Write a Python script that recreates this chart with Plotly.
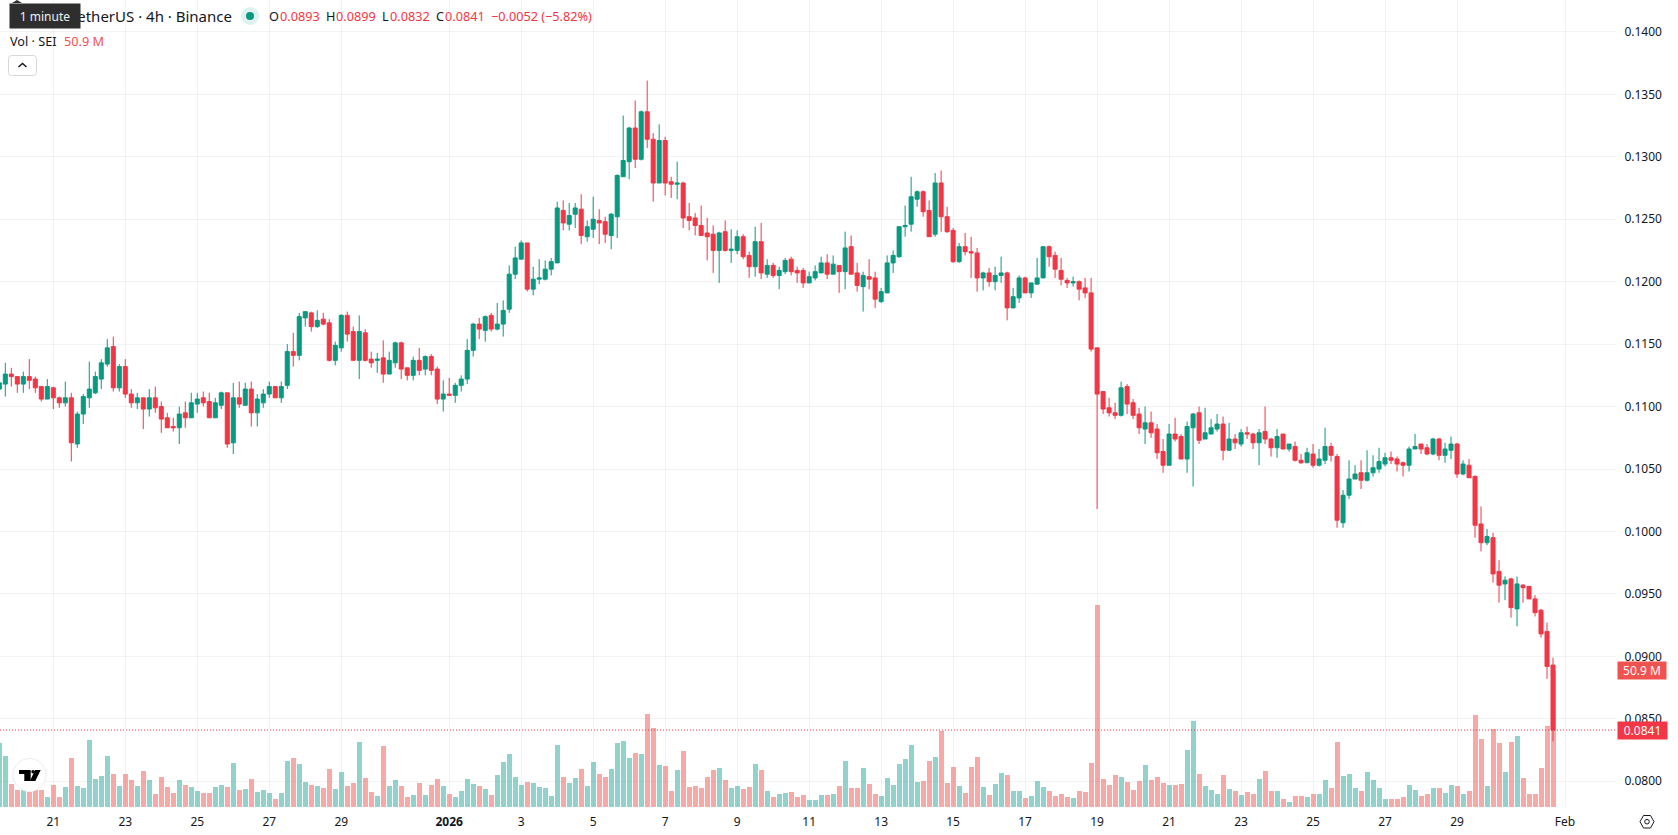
import pandas as pd
import plotly.graph_objects as go

# Four-hour candles of SEI/USDT, oldest first
first_bar = "2025-12-19 12:00"
opens = [
    0.1114, 0.1118, 0.1126, 0.1124, 0.1118, 0.1124, 0.1122, 0.1116, 0.1106, 0.1115,
    0.1107, 0.1103, 0.1107, 0.1070, 0.1094, 0.1107, 0.1111, 0.1122, 0.1134, 0.1148,
    0.1115, 0.1132, 0.1110, 0.1103, 0.1107, 0.1098, 0.1107, 0.1100, 0.1091, 0.1084,
    0.1083, 0.1095, 0.1091, 0.1102, 0.1107, 0.1104, 0.1091, 0.1101, 0.1111, 0.1071,
    0.1107, 0.1101, 0.1114, 0.1095, 0.1103, 0.1110, 0.1116, 0.1107, 0.1117, 0.1144,
    0.1141, 0.1171, 0.1175, 0.1164, 0.1170, 0.1167, 0.1137, 0.1147, 0.1173, 0.1160,
    0.1137, 0.1159, 0.1138, 0.1137, 0.1139, 0.1126, 0.1135, 0.1151, 0.1131, 0.1125,
    0.1137, 0.1130, 0.1140, 0.1130, 0.1106, 0.1110, 0.1109, 0.1117, 0.1122, 0.1145,
    0.1166, 0.1161, 0.1173, 0.1162, 0.1166, 0.1178, 0.1206, 0.1218, 0.1231, 0.1194,
    0.1202, 0.1202, 0.1210, 0.1215, 0.1257, 0.1246, 0.1254, 0.1258, 0.1236, 0.1242,
    0.1249, 0.1248, 0.1237, 0.1252, 0.1284, 0.1296, 0.1323, 0.1298, 0.1336, 0.1314,
    0.1279, 0.1313, 0.1280, 0.1278, 0.1279, 0.1252, 0.1251, 0.1245, 0.1239, 0.1238,
    0.1225, 0.1240, 0.1225, 0.1225, 0.1236, 0.1221, 0.1212, 0.1232, 0.1206, 0.1213,
    0.1205, 0.1208, 0.1218, 0.1209, 0.1209, 0.1199, 0.1203, 0.1207, 0.1215, 0.1206,
    0.1213, 0.1208, 0.1228, 0.1207, 0.1196, 0.1204, 0.1203, 0.1184, 0.1191, 0.1215,
    0.1220, 0.1244, 0.1246, 0.1266, 0.1272, 0.1257, 0.1238, 0.1279, 0.1252, 0.1241,
    0.1216, 0.1228, 0.1224, 0.1223, 0.1203, 0.1207, 0.1200, 0.1205, 0.1207, 0.1179,
    0.1187, 0.1203, 0.1191, 0.1198, 0.1203, 0.1228, 0.1221, 0.1209, 0.1201, 0.1199,
    0.1200, 0.1195, 0.1191, 0.1147, 0.1112, 0.1099, 0.1095, 0.1093, 0.1116, 0.1103,
    0.1094, 0.1082, 0.1087, 0.1082, 0.1064, 0.1053, 0.1078, 0.1076, 0.1058, 0.1083,
    0.1095, 0.1074, 0.1078, 0.1082, 0.1086, 0.1065, 0.1074, 0.1070, 0.1079, 0.1078,
    0.1071, 0.1080, 0.1074, 0.1067, 0.1078, 0.1066, 0.1068, 0.1057, 0.1055, 0.1062,
    0.1053, 0.1057, 0.1068, 0.1060, 0.1007, 0.1029, 0.1042, 0.1047, 0.1041, 0.1047,
    0.1050, 0.1054, 0.1059, 0.1058, 0.1055, 0.1053, 0.1066, 0.1070, 0.1067, 0.1062,
    0.1074, 0.1061, 0.1065, 0.1070, 0.1046, 0.1053, 0.1044, 0.1006, 0.0991, 0.0995,
    0.0968, 0.0958, 0.0962, 0.0938, 0.0957, 0.0956, 0.0946, 0.0937, 0.0920, 0.0893,
]
highs = [
    0.1122, 0.1135, 0.1131, 0.1124, 0.1128, 0.1138, 0.1124, 0.1116, 0.1122, 0.1116,
    0.1108, 0.1120, 0.1111, 0.1096, 0.1110, 0.1136, 0.1128, 0.1138, 0.1154, 0.1156,
    0.1134, 0.1138, 0.1114, 0.1111, 0.1107, 0.1114, 0.1116, 0.1104, 0.1095, 0.1091,
    0.1100, 0.1104, 0.1111, 0.1111, 0.1112, 0.1111, 0.1107, 0.1112, 0.1111, 0.1119,
    0.1120, 0.1119, 0.1120, 0.1110, 0.1114, 0.1120, 0.1116, 0.1120, 0.1150, 0.1159,
    0.1175, 0.1176, 0.1176, 0.1177, 0.1175, 0.1170, 0.1152, 0.1174, 0.1176, 0.1164,
    0.1173, 0.1162, 0.1144, 0.1143, 0.1153, 0.1144, 0.1152, 0.1152, 0.1131, 0.1140,
    0.1147, 0.1141, 0.1142, 0.1132, 0.1121, 0.1123, 0.1119, 0.1125, 0.1154, 0.1167,
    0.1171, 0.1173, 0.1175, 0.1183, 0.1185, 0.1213, 0.1228, 0.1233, 0.1231, 0.1212,
    0.1218, 0.1217, 0.1219, 0.1264, 0.1265, 0.1263, 0.1263, 0.1270, 0.1249, 0.1268,
    0.1258, 0.1252, 0.1255, 0.1286, 0.1333, 0.1324, 0.1345, 0.1337, 0.1361, 0.1319,
    0.1326, 0.1316, 0.1284, 0.1296, 0.1280, 0.1263, 0.1255, 0.1261, 0.1251, 0.1245,
    0.1240, 0.1249, 0.1242, 0.1241, 0.1238, 0.1224, 0.1244, 0.1247, 0.1218, 0.1215,
    0.1212, 0.1219, 0.1220, 0.1212, 0.1211, 0.1208, 0.1213, 0.1220, 0.1222, 0.1221,
    0.1213, 0.1240, 0.1237, 0.1215, 0.1208, 0.1218, 0.1208, 0.1195, 0.1221, 0.1225,
    0.1244, 0.1261, 0.1284, 0.1273, 0.1273, 0.1265, 0.1287, 0.1289, 0.1260, 0.1243,
    0.1231, 0.1239, 0.1236, 0.1227, 0.1208, 0.1211, 0.1212, 0.1220, 0.1208, 0.1195,
    0.1205, 0.1204, 0.1199, 0.1219, 0.1228, 0.1229, 0.1224, 0.1219, 0.1203, 0.1204,
    0.1201, 0.1203, 0.1203, 0.1147, 0.1112, 0.1107, 0.1103, 0.1120, 0.1118, 0.1106,
    0.1099, 0.1100, 0.1096, 0.1086, 0.1074, 0.1086, 0.1091, 0.1078, 0.1088, 0.1095,
    0.1100, 0.1099, 0.1090, 0.1094, 0.1092, 0.1087, 0.1078, 0.1082, 0.1084, 0.1079,
    0.1082, 0.1100, 0.1075, 0.1082, 0.1078, 0.1070, 0.1072, 0.1062, 0.1067, 0.1070,
    0.1066, 0.1083, 0.1071, 0.1062, 0.1033, 0.1057, 0.1053, 0.1057, 0.1065, 0.1061,
    0.1067, 0.1063, 0.1064, 0.1060, 0.1056, 0.1068, 0.1078, 0.1070, 0.1070, 0.1075,
    0.1075, 0.1071, 0.1076, 0.1071, 0.1057, 0.1058, 0.1045, 0.1020, 0.1002, 0.0999,
    0.0977, 0.0964, 0.0963, 0.0964, 0.0958, 0.0956, 0.0949, 0.0938, 0.0927, 0.0899,
]
lows = [
    0.1110, 0.1108, 0.1116, 0.1111, 0.1111, 0.1114, 0.1111, 0.1104, 0.1106, 0.1098,
    0.1099, 0.1100, 0.1056, 0.1067, 0.1086, 0.1099, 0.1110, 0.1114, 0.1132, 0.1112,
    0.1112, 0.1107, 0.1099, 0.1098, 0.1082, 0.1092, 0.1095, 0.1079, 0.1083, 0.1080,
    0.1070, 0.1083, 0.1091, 0.1095, 0.1100, 0.1091, 0.1091, 0.1098, 0.1067, 0.1062,
    0.1099, 0.1101, 0.1084, 0.1084, 0.1099, 0.1107, 0.1107, 0.1103, 0.1114, 0.1132,
    0.1137, 0.1164, 0.1160, 0.1163, 0.1165, 0.1136, 0.1133, 0.1144, 0.1152, 0.1137,
    0.1122, 0.1136, 0.1131, 0.1127, 0.1119, 0.1126, 0.1131, 0.1122, 0.1121, 0.1121,
    0.1125, 0.1125, 0.1125, 0.1102, 0.1096, 0.1109, 0.1103, 0.1112, 0.1118, 0.1140,
    0.1154, 0.1152, 0.1160, 0.1161, 0.1156, 0.1175, 0.1202, 0.1218, 0.1192, 0.1189,
    0.1198, 0.1201, 0.1205, 0.1215, 0.1241, 0.1241, 0.1243, 0.1230, 0.1232, 0.1235,
    0.1230, 0.1231, 0.1226, 0.1235, 0.1284, 0.1282, 0.1291, 0.1297, 0.1307, 0.1264,
    0.1279, 0.1269, 0.1267, 0.1266, 0.1243, 0.1241, 0.1237, 0.1237, 0.1217, 0.1207,
    0.1199, 0.1224, 0.1215, 0.1222, 0.1218, 0.1203, 0.1204, 0.1202, 0.1203, 0.1203,
    0.1194, 0.1206, 0.1205, 0.1199, 0.1195, 0.1199, 0.1201, 0.1207, 0.1202, 0.1206,
    0.1191, 0.1194, 0.1206, 0.1192, 0.1176, 0.1194, 0.1179, 0.1183, 0.1191, 0.1207,
    0.1219, 0.1236, 0.1240, 0.1260, 0.1252, 0.1236, 0.1236, 0.1240, 0.1239, 0.1215,
    0.1215, 0.1221, 0.1203, 0.1192, 0.1193, 0.1196, 0.1193, 0.1199, 0.1169, 0.1179,
    0.1183, 0.1191, 0.1187, 0.1198, 0.1203, 0.1212, 0.1203, 0.1197, 0.1195, 0.1196,
    0.1185, 0.1187, 0.1144, 0.1018, 0.1094, 0.1092, 0.1090, 0.1092, 0.1094, 0.1090,
    0.1078, 0.1070, 0.1075, 0.1058, 0.1047, 0.1053, 0.1072, 0.1058, 0.1047, 0.1036,
    0.1070, 0.1074, 0.1078, 0.1080, 0.1057, 0.1065, 0.1066, 0.1068, 0.1074, 0.1066,
    0.1053, 0.1070, 0.1060, 0.1059, 0.1066, 0.1064, 0.1056, 0.1054, 0.1055, 0.1051,
    0.1052, 0.1054, 0.1056, 0.1003, 0.1003, 0.1026, 0.1042, 0.1034, 0.1040, 0.1044,
    0.1047, 0.1052, 0.1054, 0.1048, 0.1044, 0.1048, 0.1066, 0.1062, 0.1061, 0.1061,
    0.1057, 0.1055, 0.1058, 0.1043, 0.1045, 0.1043, 0.0995, 0.0984, 0.0989, 0.0959,
    0.0943, 0.0945, 0.0931, 0.0924, 0.0943, 0.0946, 0.0932, 0.0915, 0.0882, 0.0832,
]
closes = [
    0.1119, 0.1126, 0.1124, 0.1118, 0.1124, 0.1121, 0.1115, 0.1106, 0.1116, 0.1107,
    0.1103, 0.1107, 0.1071, 0.1094, 0.1108, 0.1114, 0.1124, 0.1135, 0.1147, 0.1115,
    0.1132, 0.1110, 0.1103, 0.1107, 0.1098, 0.1107, 0.1099, 0.1090, 0.1083, 0.1083,
    0.1094, 0.1091, 0.1103, 0.1106, 0.1103, 0.1091, 0.1103, 0.1111, 0.1070, 0.1107,
    0.1102, 0.1114, 0.1095, 0.1106, 0.1110, 0.1116, 0.1107, 0.1116, 0.1144, 0.1141,
    0.1172, 0.1176, 0.1164, 0.1169, 0.1166, 0.1137, 0.1149, 0.1173, 0.1158, 0.1137,
    0.1160, 0.1137, 0.1135, 0.1138, 0.1126, 0.1137, 0.1151, 0.1130, 0.1125, 0.1137,
    0.1129, 0.1140, 0.1129, 0.1106, 0.1110, 0.1109, 0.1117, 0.1122, 0.1145, 0.1166,
    0.1162, 0.1172, 0.1162, 0.1166, 0.1177, 0.1206, 0.1219, 0.1231, 0.1194, 0.1202,
    0.1203, 0.1210, 0.1216, 0.1259, 0.1247, 0.1253, 0.1259, 0.1237, 0.1244, 0.1250,
    0.1247, 0.1238, 0.1254, 0.1285, 0.1297, 0.1323, 0.1298, 0.1336, 0.1314, 0.1279,
    0.1313, 0.1279, 0.1278, 0.1279, 0.1251, 0.1249, 0.1245, 0.1237, 0.1236, 0.1225,
    0.1239, 0.1225, 0.1226, 0.1236, 0.1220, 0.1212, 0.1232, 0.1207, 0.1213, 0.1205,
    0.1209, 0.1217, 0.1208, 0.1207, 0.1199, 0.1204, 0.1208, 0.1215, 0.1206, 0.1214,
    0.1208, 0.1227, 0.1206, 0.1197, 0.1205, 0.1202, 0.1186, 0.1192, 0.1215, 0.1221,
    0.1244, 0.1245, 0.1268, 0.1272, 0.1256, 0.1236, 0.1279, 0.1252, 0.1240, 0.1216,
    0.1228, 0.1224, 0.1223, 0.1203, 0.1207, 0.1200, 0.1205, 0.1207, 0.1179, 0.1188,
    0.1203, 0.1191, 0.1199, 0.1203, 0.1228, 0.1220, 0.1210, 0.1202, 0.1199, 0.1200,
    0.1194, 0.1191, 0.1146, 0.1110, 0.1098, 0.1095, 0.1093, 0.1115, 0.1102, 0.1093,
    0.1083, 0.1087, 0.1079, 0.1063, 0.1053, 0.1078, 0.1074, 0.1058, 0.1084, 0.1094,
    0.1073, 0.1079, 0.1083, 0.1086, 0.1065, 0.1074, 0.1071, 0.1079, 0.1078, 0.1071,
    0.1079, 0.1074, 0.1067, 0.1076, 0.1066, 0.1070, 0.1057, 0.1055, 0.1063, 0.1053,
    0.1058, 0.1068, 0.1061, 0.1009, 0.1029, 0.1042, 0.1046, 0.1041, 0.1047, 0.1051,
    0.1056, 0.1059, 0.1057, 0.1054, 0.1053, 0.1066, 0.1068, 0.1066, 0.1062, 0.1074,
    0.1061, 0.1066, 0.1070, 0.1046, 0.1054, 0.1043, 0.1005, 0.0991, 0.0996, 0.0966,
    0.0957, 0.0961, 0.0939, 0.0958, 0.0955, 0.0946, 0.0935, 0.0918, 0.0892, 0.0841,
]
# Traded volume per candle, millions of SEI
volumes = [
    24.0, 19.0, 8.6, 6.3, 6.2, 5.6, 6.3, 6.3, 3.7, 8.2,
    3.7, 7.5, 18.3, 7.8, 7.1, 25.0, 10.4, 11.6, 19.0, 12.3,
    7.8, 12.3, 10.1, 7.8, 13.4, 10.1, 4.9, 11.2, 7.5, 5.2,
    10.1, 8.2, 7.5, 6.0, 5.2, 5.2, 7.5, 8.2, 7.5, 16.4,
    6.3, 6.7, 10.4, 5.6, 6.3, 5.2, 3.0, 5.2, 17.2, 18.3,
    16.0, 9.3, 8.2, 7.8, 7.1, 14.2, 6.7, 13.1, 7.8, 9.0,
    24.3, 10.8, 5.6, 4.1, 22.8, 7.8, 10.1, 7.8, 3.7, 4.5,
    9.0, 4.5, 8.2, 10.4, 7.8, 4.9, 3.7, 6.0, 10.4, 8.6,
    7.8, 6.7, 4.5, 11.9, 16.8, 19.8, 11.2, 8.2, 9.3, 9.0,
    7.5, 7.1, 4.1, 23.1, 11.2, 9.0, 10.8, 14.2, 7.8, 16.8,
    12.3, 11.2, 14.2, 23.9, 24.6, 18.3, 20.1, 19.8, 34.7, 29.5,
    15.7, 15.3, 6.0, 13.8, 20.9, 7.5, 7.8, 7.1, 11.2, 13.8,
    14.6, 10.1, 7.1, 7.8, 6.7, 7.5, 16.0, 13.8, 6.0, 3.7,
    4.9, 5.2, 5.6, 3.7, 4.5, 2.6, 2.6, 4.5, 4.5, 4.9,
    7.8, 17.2, 7.1, 7.1, 14.6, 8.6, 4.9, 4.1, 10.8, 8.2,
    16.0, 17.9, 23.1, 9.3, 9.7, 17.2, 18.7, 28.4, 9.0, 14.9,
    7.8, 5.2, 14.9, 18.7, 7.5, 4.5, 8.6, 12.7, 11.9, 6.0,
    6.0, 3.4, 4.1, 9.7, 7.5, 6.0, 4.1, 4.9, 3.7, 3.4,
    6.0, 5.6, 16.4, 75.4, 10.4, 8.2, 11.9, 11.2, 9.3, 6.3,
    9.7, 15.7, 10.1, 11.2, 9.0, 8.2, 8.2, 8.6, 21.3, 32.1,
    12.3, 7.8, 6.3, 4.9, 11.9, 6.7, 6.0, 4.5, 5.6, 4.9,
    10.4, 13.4, 6.0, 6.0, 3.0, 1.9, 4.1, 4.1, 3.7, 4.9,
    4.9, 10.1, 7.1, 24.3, 11.6, 12.3, 7.1, 6.0, 13.1, 10.1,
    7.1, 3.0, 3.0, 3.0, 3.7, 8.2, 6.3, 4.1, 4.9, 7.1,
    7.1, 5.2, 8.2, 7.8, 4.9, 6.0, 34.3, 25.4, 7.8, 29.1,
    23.9, 13.1, 24.3, 26.5, 10.8, 4.9, 4.9, 14.6, 30.2, 50.9,
]

price_ticks = [0.08, 0.085, 0.09, 0.095, 0.10, 0.105, 0.11, 0.115, 0.12, 0.125, 0.13, 0.135, 0.14]
time_ticks = [
    "2025-12-21", "2025-12-23", "2025-12-25", "2025-12-27", "2025-12-29", "2026-01-01",
    "2026-01-03", "2026-01-05", "2026-01-07", "2026-01-09", "2026-01-11", "2026-01-13",
    "2026-01-15", "2026-01-17", "2026-01-19", "2026-01-21", "2026-01-23", "2026-01-25",
    "2026-01-27", "2026-01-29", "2026-02-01",
]
time_labels = [
    "21", "23", "25", "27", "29", "<b>2026</b>", "3", "5", "7", "9", "11", "13",
    "15", "17", "19", "21", "23", "25", "27", "29", "Feb",
]

last_price = closes[-1]
last_volume = volumes[-1]

RED = "#f23645"
GREEN = "#089981"
VOL_RED = "rgba(239,83,80,0.5)"
VOL_GREEN = "rgba(38,166,154,0.5)"
INK = "#131722"
GRID = "rgba(42,46,57,0.06)"
FONT = "Noto Sans"

PLOT_W, PLOT_H = 1616, 807
FIG_W, FIG_H = 1678, 835


def X(px):
    return px / PLOT_W


def Y(py):
    return 1 - py / PLOT_H


def poly(points):
    head, *rest = points
    return f"M{X(head[0])},{Y(head[1])} " + " ".join(f"L{X(a)},{Y(b)}" for a, b in rest) + " Z"


def rounded(x0, y0, x1, y1, r):
    return (
        f"M{X(x0 + r)},{Y(y0)} L{X(x1 - r)},{Y(y0)} Q{X(x1)},{Y(y0)} {X(x1)},{Y(y0 + r)} "
        f"L{X(x1)},{Y(y1 - r)} Q{X(x1)},{Y(y1)} {X(x1 - r)},{Y(y1)} "
        f"L{X(x0 + r)},{Y(y1)} Q{X(x0)},{Y(y1)} {X(x0)},{Y(y1 - r)} "
        f"L{X(x0)},{Y(y0 + r)} Q{X(x0)},{Y(y0)} {X(x0 + r)},{Y(y0)} Z"
    )


def label(text, px, py, size, color, anchor="left"):
    return dict(
        text=text, xref="paper", yref="paper", x=X(px), y=Y(py), xanchor=anchor, yanchor="middle",
        showarrow=False, borderpad=0, font=dict(family=FONT, size=size, color=color),
    )


times = pd.date_range(first_bar, periods=len(closes), freq="4h")
bar_colors = [VOL_GREEN if c > o else VOL_RED for o, c in zip(opens, closes)]

fig = go.Figure()
fig.add_trace(go.Bar(
    x=times, y=volumes, width=12000000, marker=dict(color=bar_colors, line=dict(width=0)),
    yaxis="y", showlegend=False,
))
fig.add_trace(go.Candlestick(
    x=times, open=opens, high=highs, low=lows, close=closes, yaxis="y2", whiskerwidth=0,
    increasing=dict(line=dict(color=GREEN, width=1), fillcolor=GREEN),
    decreasing=dict(line=dict(color=RED, width=1), fillcolor=RED),
    showlegend=False,
))

annotations = [
    label("Sei / TetherUS · 4h · Binance", 233, 16, 15, INK, "right"),
    dict(
        text="1 minute", xref="paper", yref="paper", x=X(9), y=Y(3), xanchor="left", yanchor="top",
        width=70, height=24, bgcolor="#2e2e2e", showarrow=False, borderpad=0,
        font=dict(family=FONT, size=12, color="#f0f0f0"),
    ),
    label("Vol · SEI", 9, 41, 12.7, INK),
    label(f"{last_volume} M", 63, 41, 12.7, "#ef5350"),
    dict(
        text=f"{last_price:.4f}", xref="paper", yref="y2", x=1, y=last_price, xshift=1,
        xanchor="left", yanchor="middle", width=49, height=17, bgcolor=RED, showarrow=False,
        borderpad=0, font=dict(family=FONT, size=12, color="#ffffff"),
    ),
    dict(
        text=f"{last_volume} M", xref="paper", yref="y", x=1, y=last_volume, xshift=1,
        xanchor="left", yanchor="middle", width=48, height=17, bgcolor="#ef5350", showarrow=False,
        borderpad=0, font=dict(family=FONT, size=12, color="#ffffff"),
    ),
]
legend_row = [
    ("O", 268, INK), ("0.0893", 279, RED), ("H", 325, INK), ("0.0899", 335, RED),
    ("L", 381, INK), ("0.0832", 389, RED), ("C", 435, INK), ("0.0841", 444, RED),
    ("−0.0052 (−5.82%)", 490, RED),
]
annotations += [label(text, px, 16, 12.7, color) for text, px, color in legend_row]

shapes = [
    # Last price line
    dict(type="line", xref="paper", yref="y2", x0=0, x1=1, y0=last_price, y1=last_price,
         line=dict(color=RED, width=1, dash="1px,2px")),
    # Tooltip pointer
    dict(type="path", xref="paper", yref="paper", path=poly([(12, 3), (17, 0), (22, 3)]),
         fillcolor="#2e2e2e", line=dict(width=0)),
    # Market status dot
    dict(type="circle", xref="paper", yref="paper", x0=X(241), x1=X(259), y0=Y(7), y1=Y(25),
         fillcolor="#dff2ef", line=dict(width=0)),
    dict(type="circle", xref="paper", yref="paper", x0=X(246), x1=X(254), y0=Y(12), y1=Y(20),
         fillcolor=GREEN, line=dict(width=0)),
    # Collapse button
    dict(type="path", xref="paper", yref="paper", path=rounded(8.5, 55.5, 36.5, 75.5, 3),
         fillcolor="#ffffff", line=dict(color="#d6d8dc", width=1)),
    dict(type="path", xref="paper", yref="paper",
         path=f"M{X(18.5)},{Y(67)} L{X(22.5)},{Y(63.5)} L{X(26.5)},{Y(67)}",
         line=dict(color=INK, width=1.5)),
    # Logo badge
    dict(type="circle", xref="paper", yref="paper", x0=X(13), x1=X(46), y0=Y(758.5), y1=Y(791.5),
         fillcolor="#ffffff", line=dict(color="#ececee", width=1)),
    dict(type="path", xref="paper", yref="paper",
         path=poly([(19, 770), (30.7, 770), (30.7, 781), (24.3, 781), (24.3, 774), (19, 774)]),
         fillcolor="#000000", line=dict(width=0)),
    dict(type="circle", xref="paper", yref="paper", x0=X(31.3), x1=X(34.7), y0=Y(770), y1=Y(773.5),
         fillcolor="#000000", line=dict(width=0)),
    dict(type="path", xref="paper", yref="paper", path=poly([(35, 770), (40.7, 770), (35.3, 781), (30, 781)]),
         fillcolor="#000000", line=dict(width=0)),
    # Settings icon in the axis corner
    dict(type="path", xref="paper", yref="paper",
         path=poly([(1640, 821.7), (1643.5, 815.5), (1650.5, 815.5), (1654, 821.7), (1650.5, 828), (1643.5, 828)]),
         line=dict(color=INK, width=1)),
    dict(type="circle", xref="paper", yref="paper", x0=X(1644.7), x1=X(1649.3), y0=Y(819.4), y1=Y(824),
         line=dict(color=INK, width=1)),
]

fig.update_layout(
    width=FIG_W, height=FIG_H, autosize=False,
    margin=dict(l=0, r=FIG_W - PLOT_W, t=0, b=FIG_H - PLOT_H, pad=0),
    paper_bgcolor="#ffffff", plot_bgcolor="#ffffff",
    font=dict(family=FONT, size=12, color=INK),
    boxgap=0.33, boxgroupgap=0, bargap=0, hovermode=False,
    xaxis=dict(
        type="date", range=["2025-12-19 12:28", "2026-02-02 10:00"], rangeslider=dict(visible=False),
        tickmode="array", tickvals=time_ticks, ticktext=time_labels, tickangle=0,
        showgrid=True, gridcolor=GRID, gridwidth=1, zeroline=False, showline=False,
        ticks="outside", ticklen=4, tickcolor="rgba(0,0,0,0)",
        tickfont=dict(family=FONT, size=12, color=INK),
    ),
    yaxis=dict(range=[0, 301.1], visible=False, showgrid=False, zeroline=False, fixedrange=True),
    yaxis2=dict(
        overlaying="y", side="right", anchor="x", range=[0.07794, 0.14255],
        tickmode="array", tickvals=price_ticks, tickformat=".4f",
        showgrid=True, gridcolor=GRID, gridwidth=1, zeroline=False, showline=False,
        ticks="outside", ticklen=5, tickcolor="rgba(0,0,0,0)",
        tickfont=dict(family=FONT, size=12, color=INK),
    ),
    annotations=annotations, shapes=shapes,
)

fig.write_html("out.html", config=dict(displayModeBar=False))
